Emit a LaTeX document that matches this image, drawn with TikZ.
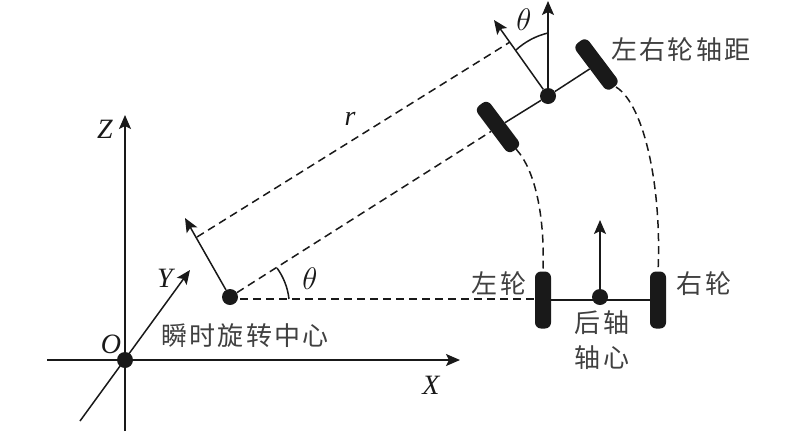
\documentclass[tikz,border=0pt]{standalone}
\usepackage{fontspec}
\usetikzlibrary{arrows.meta}
\setmainfont{Liberation Serif}
\newfontfamily\cjk[LetterSpace=8]{Noto Sans CJK SC}
\tikzset{
  solidln/.style={line width=1.5pt,black!90},
  arr/.style={solidln,-{Stealth[length=14pt,width=12pt,inset=3pt]}},
  dashln/.style={solidln,dash pattern=on 8pt off 5pt},
  dotn/.style={circle,fill=black!90,inner sep=0pt,minimum size=16pt},
  wheel/.style={rectangle,fill=black!90,rounded corners=6pt,inner sep=0pt,minimum width=57pt,minimum height=16pt},
  cn/.style={font=\cjk\fontsize{26}{26}\selectfont,inner sep=0pt,text=black!75},
  lat/.style={font=\fontsize{28}{28}\selectfont\itshape,inner sep=0pt,text=black!90},
  thetan/.style={font=\fontsize{20}{20}\selectfont,scale=1.5,inner sep=0pt,text=black!90},
}
\begin{document}
\begin{tikzpicture}[x=1pt,y=-1pt]
\useasboundingbox (0,0) rectangle (800,432);
% coordinates
\coordinate (xs) at (47,360); \coordinate (xe) at (460,360);
\coordinate (zs) at (125,431); \coordinate (ze) at (125,115);
\coordinate (ys) at (80,421); \coordinate (ye) at (190,270);
\coordinate (rvtip) at (185,218); \coordinate (rvmid) at (197,237);
\coordinate (ftip) at (494,20); \coordinate (fmid) at (510,42);
\coordinate (uptip) at (548,1);
\coordinate (a1) at (289,299); \coordinate (a2) at (277,268);
\coordinate (b1) at (548,33); \coordinate (b2) at (516,50);
\coordinate (lline) at (535,299);
% wheels
\node[wheel,rotate=-53] (wl) at (498,127) {};
\node[wheel,rotate=-53] (wr) at (596.5,64.5) {};
\node[wheel,rotate=90] (rl) at (543,300) {};
\node[wheel,rotate=90] (rr) at (658,300) {};
\draw[solidln] (rl) -- (rr);
% dots
\node[dotn] (o) at (125,360) {};
\node[dotn] (c) at (230,297) {};
\node[dotn] (f) at (548,96) {};
\node[dotn] (r) at (600,297) {};
\coordinate (rup) at (600,220);
% axes
\draw[arr] (xs) -- (xe);
\draw[arr] (zs) -- (ze);
\draw[arr] (ys) -- (ye);
% dashed
\draw[dashln] (c) -- (wl);
\draw[dashln] (rvmid) -- (fmid);
\draw[dashln] (c.center) ++(10,2) -- (rl.center |- lline);
\draw[dashln] (516,149) .. controls (535,170) and (545,215) .. (543,272);
\draw[dashln] (616,87) .. controls (645,105) and (662,190) .. (658,272);
% solid
\draw[arr] (c) -- (rvtip);
\draw[arr] (f) -- (ftip);
\draw[arr] (f) -- (uptip);
\draw[solidln] (wl) -- (f);
\draw[solidln] (f) -- (wr);
\draw[arr] (r) -- (rup);
\draw[solidln] (a1) to[bend right=15,looseness=.85] (a2);
\draw[solidln] (b1) to[bend right=15,looseness=.85] (b2);
% labels
\node[lat] (lz) at (105,129) {Z};
\node[lat] (lo) at (111,344) {O};
\node[lat] (ly) at (165,278) {Y};
\node[lat] (lx) at (431,385) {X};
\node[lat] (lr) at (350,119) {r};
\node[thetan] (lt1) at (310,279) {$\theta$};
\node[thetan] (lt2) at (524,20) {$\theta$};
\node[cn] (t1) at (681,50) {左右轮轴距};
\node[cn] (t2) at (245,336) {瞬时旋转中心};
\node[cn] (t3) at (499,284) {左轮};
\node[cn] (t4) at (704,284) {右轮};
\node[cn] (t5) at (602,323) {后轴};
\node[cn] (t6) at (602,358) {轴心};
\end{tikzpicture}
\end{document}
